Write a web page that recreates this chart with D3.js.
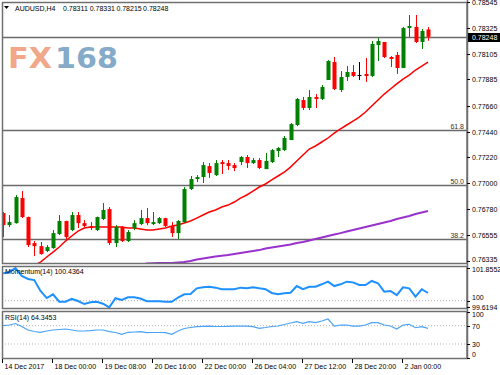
<!DOCTYPE html>
<html>
<head>
<meta charset="utf-8">
<script src="https://cdn.jsdelivr.net/npm/d3@7"></script>
<style>
  html, body { margin: 0; padding: 0; background: #fff; }
  svg { display: block; font-family: "Liberation Sans", Arial, sans-serif; }
</style>
</head>
<body>
<svg width="500" height="375"></svg>
<script>
const symbol = "AUDUSD,H4";
const timeLabels = ["14 Dec 2017", "18 Dec 00:00", "19 Dec 08:00", "20 Dec 16:00", "22 Dec 00:00",
  "26 Dec 04:00", "27 Dec 12:00", "28 Dec 20:00", "2 Jan 00:00"];
const timeLabelBars = [0, 8, 16, 24, 32, 40, 48, 56, 64];

// H4 candles, oldest first
const opens = [0.76745, 0.76642, 0.76659, 0.76873, 0.76711, 0.76489, 0.76463, 0.76421, 0.76446, 0.76566,
  0.76677, 0.76600, 0.76728, 0.76659, 0.76634, 0.76600, 0.76694, 0.76779, 0.76489, 0.76625,
  0.76506, 0.76617, 0.76651, 0.76702, 0.76651, 0.76659, 0.76702, 0.76634, 0.76574, 0.76668,
  0.76950, 0.77035, 0.77052, 0.77146, 0.77069, 0.77180, 0.77171, 0.77154, 0.77180, 0.77223,
  0.77171, 0.77197, 0.77120, 0.77180, 0.77274, 0.77282, 0.77368, 0.77496, 0.77709, 0.77641,
  0.77735, 0.77718, 0.77880, 0.78033, 0.77794, 0.77905, 0.77948, 0.77922, 0.77931, 0.77914,
  0.78178, 0.78204, 0.78076, 0.78093, 0.77982, 0.78323, 0.78332, 0.78204, 0.78311];
const highs = [0.76754, 0.76728, 0.76898, 0.76932, 0.76715, 0.76506, 0.76498, 0.76472, 0.76600, 0.76728,
  0.76680, 0.76754, 0.76754, 0.76685, 0.76668, 0.76715, 0.76830, 0.76796, 0.76642, 0.76634,
  0.76600, 0.76685, 0.76771, 0.76788, 0.76754, 0.76711, 0.76705, 0.76668, 0.76685, 0.76967,
  0.77061, 0.77069, 0.77180, 0.77171, 0.77197, 0.77197, 0.77197, 0.77171, 0.77231, 0.77240,
  0.77214, 0.77214, 0.77257, 0.77291, 0.77308, 0.77402, 0.77513, 0.77726, 0.77735, 0.77794,
  0.77760, 0.77837, 0.78050, 0.78076, 0.77956, 0.77999, 0.78007, 0.78033, 0.78067, 0.78212,
  0.78238, 0.78204, 0.78084, 0.78118, 0.78332, 0.78434, 0.78434, 0.78315, 0.78331];
const lows = [0.76540, 0.76625, 0.76655, 0.76702, 0.76455, 0.76378, 0.76390, 0.76412, 0.76440, 0.76557,
  0.76523, 0.76591, 0.76617, 0.76625, 0.76600, 0.76591, 0.76685, 0.76472, 0.76455, 0.76498,
  0.76498, 0.76600, 0.76642, 0.76642, 0.76642, 0.76651, 0.76625, 0.76540, 0.76523, 0.76665,
  0.76941, 0.77010, 0.77001, 0.77044, 0.77061, 0.77078, 0.77112, 0.77103, 0.77154, 0.77129,
  0.77163, 0.77120, 0.77120, 0.77171, 0.77223, 0.77274, 0.77368, 0.77487, 0.77624, 0.77624,
  0.77641, 0.77709, 0.77880, 0.77794, 0.77777, 0.77871, 0.77905, 0.77880, 0.77863, 0.77905,
  0.78042, 0.78067, 0.77991, 0.77931, 0.77982, 0.78246, 0.78195, 0.78144, 0.78215];
const closes = [0.76642, 0.76668, 0.76881, 0.76711, 0.76472, 0.76463, 0.76395, 0.76455, 0.76574, 0.76677,
  0.76540, 0.76728, 0.76659, 0.76634, 0.76617, 0.76711, 0.76771, 0.76489, 0.76625, 0.76506,
  0.76583, 0.76659, 0.76702, 0.76659, 0.76668, 0.76702, 0.76634, 0.76574, 0.76677, 0.76950,
  0.77035, 0.77052, 0.77154, 0.77086, 0.77171, 0.77163, 0.77146, 0.77129, 0.77223, 0.77171,
  0.77197, 0.77129, 0.77189, 0.77282, 0.77300, 0.77385, 0.77504, 0.77718, 0.77641, 0.77735,
  0.77718, 0.77820, 0.78042, 0.77803, 0.77905, 0.77948, 0.77914, 0.77922, 0.77914, 0.78187,
  0.78212, 0.78076, 0.78059, 0.77982, 0.78323, 0.78340, 0.78204, 0.78298, 0.78248];

// moving averages (null = outside the window)
const maRed = [null, null, null, null, null, 0.76300, 0.76327, 0.76370, 0.76412, 0.76455,
  0.76506, 0.76549, 0.76591, 0.76617, 0.76625, 0.76625, 0.76625, 0.76625, 0.76625, 0.76625,
  0.76617, 0.76617, 0.76609, 0.76600, 0.76600, 0.76609, 0.76617, 0.76634, 0.76643, 0.76660,
  0.76677, 0.76702, 0.76728, 0.76754, 0.76771, 0.76796, 0.76813, 0.76839, 0.76873, 0.76899,
  0.76933, 0.76967, 0.76993, 0.77027, 0.77061, 0.77095, 0.77137, 0.77189, 0.77240, 0.77291,
  0.77317, 0.77351, 0.77385, 0.77427, 0.77462, 0.77496, 0.77530, 0.77564, 0.77607, 0.77658,
  0.77709, 0.77760, 0.77803, 0.77847, 0.77888, 0.77922, 0.77965, 0.77999, 0.78033];
const maPurple = [null, null, null, null, null, null, null, null, null, null,
  null, null, null, null, null, null, null, null, null, null,
  null, null, 0.76305, 0.76314, 0.76316, 0.76319, 0.76319, 0.76320, 0.76323, 0.76327,
  0.76336, 0.76349, 0.76357, 0.76366, 0.76374, 0.76380, 0.76387, 0.76396, 0.76404, 0.76412,
  0.76421, 0.76429, 0.76442, 0.76451, 0.76459, 0.76468, 0.76476, 0.76489, 0.76498, 0.76511,
  0.76524, 0.76536, 0.76549, 0.76562, 0.76574, 0.76587, 0.76600, 0.76613, 0.76626, 0.76639,
  0.76651, 0.76664, 0.76677, 0.76694, 0.76707, 0.76720, 0.76737, 0.76749, 0.76762];

const momentum = [101.55, 101.63, 101.8552, 101.40, 101.23, 101.17, 100.55, 100.15, 100.36, 99.94,
  99.94, 100.10, 99.98, 99.81, 99.91, 99.94, 99.83, 99.6194, 100.14, 100.04,
  100.19, 100.19, 100.12, 99.97, 99.97, 99.97, 99.94, 99.94, 100.18, 100.36,
  100.38, 100.70, 100.76, 100.79, 100.74, 100.65, 100.65, 100.65, 100.74, 100.70,
  100.76, 100.70, 100.65, 100.44, 100.36, 100.42, 100.45, 100.83, 100.65, 100.79,
  100.79, 100.93, 101.08, 100.83, 100.93, 101.08, 101.04, 100.89, 100.89, 101.12,
  100.99, 100.51, 100.55, 100.32, 100.76, 100.70, 100.23, 100.65, 100.4364];
const rsi = [70.4, 71.5, 74.8, 68.3, 60.6, 57.3, 55.6, 58.4, 60.6, 61.7,
  62.8, 60.6, 58.4, 58.4, 59.1, 60.6, 60.6, 56.9, 55.1, 51.2,
  55.6, 56.2, 56.9, 54.7, 55.1, 55.1, 54.7, 51.2, 58.4, 63.9,
  66.1, 67.8, 68.7, 69.3, 68.3, 68.3, 68.7, 69.3, 69.3, 69.3,
  67.8, 64.3, 66.1, 68.3, 69.3, 72.6, 75.9, 78.7, 75.3, 78.7,
  76.6, 80.3, 84.7, 69.3, 71.5, 71.5, 69.3, 69.3, 71.5, 76.6,
  76.6, 71.5, 69.3, 62.8, 71.5, 73.1, 65.6, 67.8, 64.3453];

const priceTicks = [0.78545, 0.78325, 0.78105, 0.77885, 0.77660, 0.77440, 0.77220, 0.77000, 0.76780, 0.76555, 0.76335];
const fibNames = ["61.8", "50.0", "38.2"];
const fibPrices = [0.77453, 0.76984, 0.76523];
const momentumTicks = [101.8552, 100, 99.6194];
const momentumLevel = 100;
const rsiTicks = [100, 70, 30, 0];
const rsiLevels = [70, 30];

const layout = {
  left: 2, axisX: 467,
  main: { top: 2, bottom: 263 },
  mom: { top: 266, bottom: 308 },
  rsi: { top: 311, bottom: 358 },
  font: 7
};
const colors = {
  up: "#008000", down: "#ff0000", doji: "#000000",
  frame: "#707070", level: "#6a6a6a", dotted: "#b0b0b0",
  maRed: "#ff0000", maPurple: "#9932cc", momentum: "#1e90ff", rsi: "#4aa3f5"
};

const svg = d3.select("svg");
const last = closes.length - 1;
const bars = d3.range(closes.length);

const x = d3.scaleLinear().domain([0, last]).range([3, 428]);
const yMain = d3.scaleLinear().domain([0.76319, 0.78545]).range([263, 2]);
const yMom = d3.scaleLinear().domain([99.6194, 101.8552]).range([307.4, 268]);
const yRsi = d3.scaleLinear().domain([0, 100]).range([357.7, 312]);

const panelClip = (id, p) => {
  svg.append("clipPath").attr("id", id).append("rect")
    .attr("x", layout.left).attr("y", p.top)
    .attr("width", layout.axisX - layout.left).attr("height", p.bottom - p.top);
  return `url(#${id})`;
};

// ---- main window ----
const main = svg.append("g").attr("clip-path", panelClip("clipMain", layout.main));

// logo
const logo = svg.append("g").attr("font-family", "'DejaVu Sans', sans-serif").attr("font-weight", "bold").attr("font-size", 29);
logo.append("text").attr("x", 8).attr("y", 68).attr("fill", "#f2a68a")
  .attr("textLength", 44).attr("lengthAdjust", "spacingAndGlyphs").text("FX");
logo.append("text").attr("x", 55).attr("y", 68).attr("fill", "#85abc9")
  .attr("textLength", 63).attr("lengthAdjust", "spacingAndGlyphs").text("168");

// fibo + current price lines
fibPrices.forEach((p, k) => {
  const yy = Math.round(yMain(p)) + 0.5;
  main.append("line").attr("x1", layout.left).attr("x2", layout.axisX)
    .attr("y1", yy).attr("y2", yy).attr("stroke", colors.level).attr("stroke-width", 1.5);
  svg.append("text").attr("x", 464).attr("y", yy - 2).attr("text-anchor", "end")
    .attr("font-size", layout.font).attr("fill", "#333").text(fibNames[k]);
});
const lastY = Math.round(yMain(closes[last])) + 0.5;
main.append("line").attr("x1", layout.left).attr("x2", layout.axisX)
  .attr("y1", lastY).attr("y2", lastY).attr("stroke", colors.level).attr("stroke-width", 1.5);

// moving averages
const maLine = d3.line().defined(d => d != null).x((d, i) => x(i)).y(d => yMain(d));
main.append("path").datum(maPurple).attr("d", maLine)
  .attr("fill", "none").attr("stroke", colors.maPurple).attr("stroke-width", 2);
main.append("path").datum(maRed).attr("d", maLine)
  .attr("fill", "none").attr("stroke", colors.maRed).attr("stroke-width", 1.5);

// candles
const candleColor = i => closes[i] > opens[i] ? colors.up : closes[i] < opens[i] ? colors.down : colors.doji;
const candles = main.append("g").selectAll("g").data(bars).join("g");
candles.append("line")
  .attr("x1", i => Math.round(x(i)) + 0.5).attr("x2", i => Math.round(x(i)) + 0.5)
  .attr("y1", i => yMain(highs[i])).attr("y2", i => yMain(lows[i]))
  .attr("stroke", candleColor).attr("stroke-width", 1);
candles.append("rect")
  .attr("x", i => Math.round(x(i)) - 1.5).attr("width", 4)
  .attr("y", i => yMain(Math.max(opens[i], closes[i])))
  .attr("height", i => Math.max(1, Math.abs(yMain(opens[i]) - yMain(closes[i]))))
  .attr("fill", candleColor);

// header
svg.append("path").attr("d", "M4,6 L9,6 L6.5,9 Z").attr("fill", "#000");
svg.append("text").attr("x", 15).attr("y", 10.5).attr("font-size", layout.font).text(symbol);
[opens[last], highs[last], lows[last], closes[last]].forEach((v, k) => {
  svg.append("text").attr("x", 63 + k * 26.7).attr("y", 10.5)
    .attr("font-size", layout.font).text(d3.format(".5f")(v));
});

// ---- momentum window ----
const mom = svg.append("g").attr("clip-path", panelClip("clipMom", layout.mom));
mom.append("line").attr("x1", layout.left).attr("x2", layout.axisX)
  .attr("y1", yMom(momentumLevel)).attr("y2", yMom(momentumLevel))
  .attr("stroke", colors.dotted).attr("stroke-dasharray", "1,2");
svg.append("text").attr("x", 5).attr("y", 274).attr("font-size", layout.font)
  .text(`Momentum(14) ${d3.format(".4f")(momentum[last])}`);
mom.append("path").datum(momentum)
  .attr("d", d3.line().x((d, i) => x(i)).y(d => yMom(d)))
  .attr("fill", "none").attr("stroke", colors.momentum).attr("stroke-width", 2);

// ---- RSI window ----
const rsiG = svg.append("g").attr("clip-path", panelClip("clipRsi", layout.rsi));
rsiLevels.forEach(v => {
  rsiG.append("line").attr("x1", layout.left).attr("x2", layout.axisX)
    .attr("y1", yRsi(v)).attr("y2", yRsi(v))
    .attr("stroke", colors.dotted).attr("stroke-dasharray", "1,2");
});
svg.append("text").attr("x", 5).attr("y", 320).attr("font-size", layout.font)
  .text(`RSI(14) ${d3.format(".4f")(rsi[last])}`);
rsiG.append("path").datum(rsi)
  .attr("d", d3.line().x((d, i) => x(i)).y(d => yRsi(d)))
  .attr("fill", "none").attr("stroke", colors.rsi).attr("stroke-width", 1.2);

// ---- frames ----
[layout.main, layout.mom, layout.rsi].forEach(p => {
  svg.append("rect").attr("x", layout.left + 0.5).attr("y", p.top + 0.5)
    .attr("width", layout.axisX - layout.left - 0.5).attr("height", p.bottom - p.top)
    .attr("fill", "none").attr("stroke", colors.frame).attr("stroke-width", 1.5);
});
svg.append("line").attr("x1", layout.axisX + 0.5).attr("x2", layout.axisX + 0.5)
  .attr("y1", 0).attr("y2", layout.rsi.bottom + 1)
  .attr("stroke", colors.frame).attr("stroke-width", 1.5);

// ---- right scales ----
// nudge: small offsets so neighbouring labels (100 / 99.6194) do not sit on each other
const rightLabels = (values, scale, p, fmt, nudge = () => 0) => {
  const g = svg.append("g").attr("font-size", layout.font);
  values.forEach(v => {
    const yy = Math.round(scale(v)) + 0.5;
    const ty = Math.min(Math.max(yy, p.top + 2), p.bottom - 3) + nudge(v);
    g.append("line").attr("x1", layout.axisX).attr("x2", layout.axisX + 3)
      .attr("y1", yy).attr("y2", yy).attr("stroke", "#000");
    g.append("text").attr("x", layout.axisX + 5).attr("y", ty).attr("dy", "0.35em").text(fmt(v));
  });
};
rightLabels(priceTicks, yMain, { top: 0, bottom: layout.main.bottom }, d3.format(".5f"));
rightLabels(momentumTicks, yMom, { top: layout.mom.top + 2, bottom: layout.mom.bottom },
  v => v === 100 ? "100" : d3.format(".4f")(v),
  v => v === 100 ? -3.5 : v < 100 ? 2.5 : 0);
rightLabels(rsiTicks, yRsi, { top: layout.rsi.top + 2, bottom: layout.rsi.bottom }, v => String(v));

// current price tag
svg.append("rect").attr("x", layout.axisX + 1).attr("y", lastY - 4.5)
  .attr("width", 500 - layout.axisX - 1).attr("height", 9).attr("fill", "#000");
svg.append("text").attr("x", layout.axisX + 5).attr("y", lastY).attr("dy", "0.35em")
  .attr("font-size", layout.font).attr("fill", "#fff").text(d3.format(".5f")(closes[last]));

// ---- time axis ----
const timeAxis = svg.append("g")
  .attr("transform", `translate(0, ${layout.rsi.bottom + 1})`)
  .call(d3.axisBottom(x).tickValues(timeLabelBars)
    .tickFormat((d, k) => timeLabels[k]).tickSize(4).tickSizeOuter(0).tickPadding(1));
timeAxis.select(".domain").remove();
timeAxis.selectAll("line").attr("transform", "translate(-1,0)").attr("stroke", "#000");
timeAxis.selectAll("text").attr("text-anchor", "start").attr("x", 1)
  .attr("font-size", layout.font).attr("font-family", "'Liberation Sans', Arial, sans-serif").attr("fill", "#000");
</script>
</body>
</html>
